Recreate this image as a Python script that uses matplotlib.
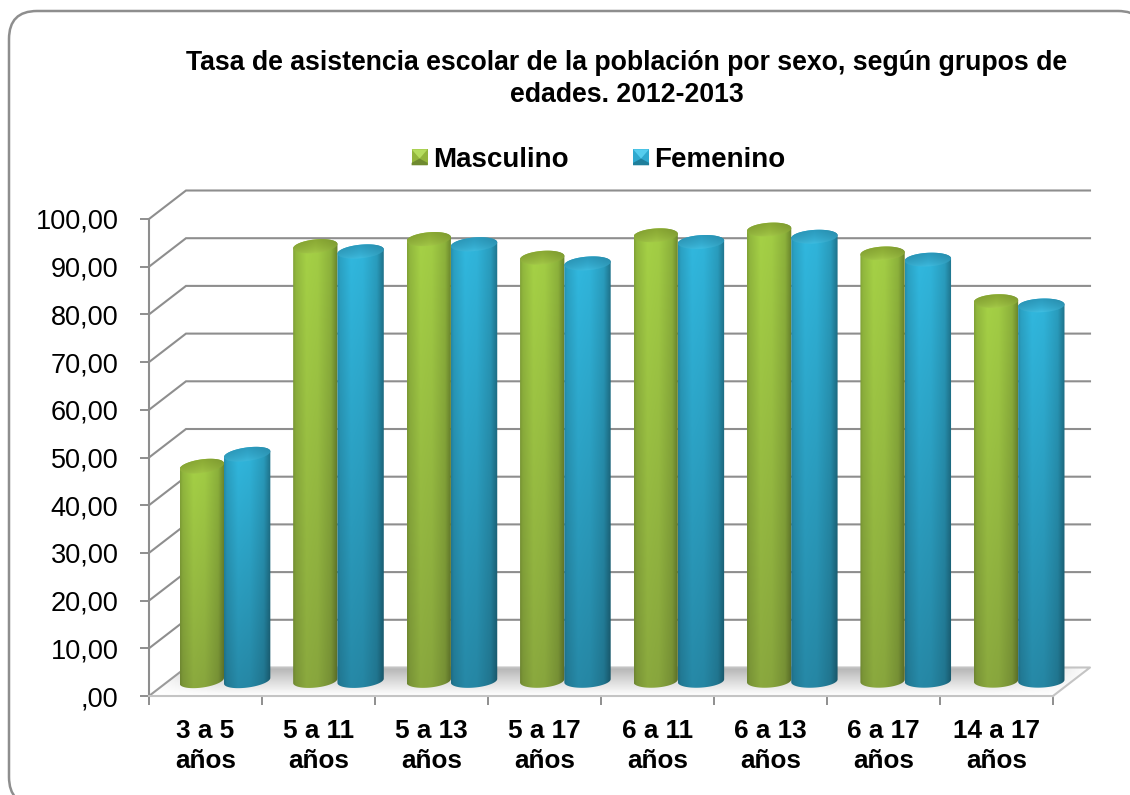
import numpy as np
import matplotlib
matplotlib.use("Agg")
import matplotlib.pyplot as plt
from matplotlib.path import Path
from matplotlib.patches import PathPatch, FancyBboxPatch, Polygon, Patch
from matplotlib.legend_handler import HandlerBase
from matplotlib.colors import to_rgb

plt.rcParams['font.family'] = ['Liberation Sans', 'DejaVu Sans']

title = "Tasa de asistencia escolar de la población por sexo, según grupos de\nedades. 2012-2013"
categories = ["3 a 5\naños", "5 a 11\naños", "5 a 13\naños", "5 a 17\naños",
              "6 a 11\naños", "6 a 13\naños", "6 a 17\naños", "14 a 17\naños"]
masculino = [45.0, 91.1, 92.6, 88.7, 93.4, 94.6, 89.6, 79.6]
femenino = [47.5, 90.0, 91.5, 87.5, 92.0, 93.1, 88.3, 78.7]
y_ticks = [0, 10, 20, 30, 40, 50, 60, 70, 80, 90, 100]
y_labels = [",00", "10,00", "20,00", "30,00", "40,00", "50,00", "60,00", "70,00", "80,00", "90,00", "100,00"]

W, H = 1130, 795
GRID = '#8e8e8e'
fig = plt.figure(figsize=(W / 100, H / 100), dpi=100, facecolor='white')

# outer rounded frame (runs off the right and bottom edges)
bg = fig.add_axes([0, 0, 1, 1], zorder=0)
bg.set_xlim(0, W); bg.set_ylim(H, 0); bg.axis('off')
bg.add_patch(FancyBboxPatch((9 + 28, 11 + 28), 1146 - 9 - 56, 805 - 11 - 56,
                            boxstyle="round,pad=28,rounding_size=28",
                            fc='white', ec=GRID, lw=1.8))

ax = fig.add_axes([149 / W, (H - 696) / H, 904 / W, 477 / H], zorder=1)
ax.patch.set_alpha(0)
ax.set_xlim(0, 8); ax.set_ylim(0, 100)
ax.set_autoscale_on(False)

DX = 37 / 113.0      # depth in category units
DY = 28.5 / 4.77     # depth in value units

# floor with soft shadow
floor = np.array([[0, 0], [8, 0], [8 + DX, DY], [DX, DY]])
u = np.linspace(0, 1, 256)
shade = np.linspace(0, 1, 64)[:, None] ** 1.1
across = np.clip(np.minimum(u * 14, (1 - u) * 10), 0, 1)[None, :]
g = 1 - 0.30 * shade * across
fl_im = ax.imshow(np.dstack([g, g, g]), extent=(0, 8 + DX, 0, DY), origin='lower', aspect='auto', zorder=1)
fl_patch = Polygon(floor, closed=True, transform=ax.transData, fc='none', ec='none', clip_on=False)
ax.add_patch(fl_patch)
fl_im.set_clip_box(fig.bbox)
fl_im.set_clip_path(fl_patch)
ax.plot(floor[[1, 2, 3], 0], floor[[1, 2, 3], 1], color='#c4c4c4', lw=1.5, clip_on=False, zorder=2)

# walls
for v in y_ticks[1:]:
    ax.plot([0, DX, 8 + DX], [v, v + DY, v + DY], color=GRID, lw=1.5, clip_on=False, zorder=2,
            solid_joinstyle='miter')
ax.plot([0, DX], [0, DY], color='#9a9a9a', lw=1.5, clip_on=False, zorder=2)

# axes
for s in ('top', 'right'):
    ax.spines[s].set_visible(False)
ax.spines['left'].set_color(GRID); ax.spines['left'].set_linewidth(1.5)
ax.spines['bottom'].set_color('#c4c4c4'); ax.spines['bottom'].set_linewidth(1.5)
ax.set_yticks(y_ticks); ax.set_yticklabels(y_labels, fontsize=19.5)
ax.tick_params(axis='y', length=6.5, width=1.4, color=GRID, pad=15.5)
ax.set_xticks(np.arange(0, 9))
ax.set_xticklabels([])
ax.tick_params(axis='x', which='major', length=6.5, width=1.4, color=GRID)
ax.set_xticks(np.arange(8) + 0.5, minor=True)
ax.set_xticklabels(categories, minor=True, fontsize=18.8, fontweight='bold', linespacing=1.29)
ax.tick_params(axis='x', which='minor', length=0, pad=16.7)


def draw_cyl(xc, hw, value, base, cols, tilt, z):
    top_c, bot_c, cap_hi, cap_lo = [np.array(to_rgb(c)) for c in cols]
    e = 6.8 / 4.77
    t = np.linspace(0, np.pi, 40)
    slope = tilt / hw
    xb = xc - hw * np.cos(t)
    yb = base - e * np.sin(t) + slope * (xb - xc)
    xt = xc + hw * np.cos(t)
    yt = base + value + e * np.sin(t) + slope * (xt - xc)
    body = Path(np.column_stack([np.r_[xb, xt], np.r_[yb, yt]]))
    ny, nx = 200, 120
    hz = np.interp(np.linspace(0, 1, nx), [0, .06, .3, .55, .85, 1], [.78, .88, 1.0, .98, .85, .62])
    vt = np.linspace(0, 1, ny)[:, None, None]
    img = (bot_c * (1 - vt) + top_c * vt) * hz[None, :, None]
    lo = base - e - abs(tilt) - 1
    hi = base + value + e + abs(tilt) + 1
    im = ax.imshow(np.clip(img, 0, 1), extent=(xc - hw, xc + hw, lo, hi), origin='lower', aspect='auto', zorder=z)
    p = PathPatch(body, transform=ax.transData, fc='none', ec='none', clip_on=False)
    ax.add_patch(p)
    im.set_clip_box(fig.bbox)
    im.set_clip_path(p)
    # top cap: dark at the back, light rim at the front
    tt = np.linspace(0, 2 * np.pi, 80)
    xx = xc + hw * np.cos(tt)
    yy = base + value + e * np.sin(tt) + slope * (xx - xc)
    cap = Path(np.column_stack([xx, yy]))
    vv = np.linspace(0, 1, 40)[:, None, None] ** 0.55
    cimg = cap_hi * (1 - vv) + cap_lo * vv   # row 0 = front (low value)
    y0 = base + value - e - abs(tilt)
    y1 = base + value + e + abs(tilt)
    hzc = np.interp(np.linspace(0, 1, 60), [0, .5, 1], [.92, 1.0, .9])
    cim = ax.imshow(cimg * hzc[None, :, None], extent=(xc - hw, xc + hw, y0, y1),
                    origin='lower', aspect='auto', zorder=z + 0.01)
    cp = PathPatch(cap, transform=ax.transData, fc='none', ec='none', clip_on=False)
    ax.add_patch(cp)
    cim.set_clip_box(fig.bbox)
    cim.set_clip_path(cp)


GREEN = ('#a6d246', '#8aa83e', '#aed650', '#88a632')
BLUE = ('#31b9e0', '#2688a6', '#45c8ec', '#2a98bb')
BASE = DY / 2 + 0.2
tilts = [.6, .45, .4, .35, .3, .3, .25, .2]
for i, (m, f) in enumerate(zip(masculino, femenino)):
    cx = i + 0.5 + DX / 2 + i * 0.004
    draw_cyl(cx - 0.196, 0.196, m, BASE, GREEN, tilts[i], 5 + i)
    draw_cyl(cx + 0.205, 0.205, f, BASE, BLUE, tilts[i], 5.5 + i)


class CubeHandler(HandlerBase):
    def __init__(self, light, mid, dark):
        super().__init__()
        self.c = (light, mid, dark)

    def create_artists(self, legend, orig, xd, yd, w, h, fs, trans):
        light, mid, dark = self.c
        s = 16 * 0.72
        x0 = w - s
        y0 = (h - s) / 2
        sq = [(x0, y0), (x0 + s, y0), (x0 + s, y0 + s), (x0, y0 + s)]
        cxy = (x0 + s / 2, y0 + s * 0.42)
        return [Polygon(sq, fc=mid, ec='none', transform=trans),
                Polygon([sq[3], sq[2], cxy], fc=light, ec='none', transform=trans),
                Polygon([sq[0], sq[1], (x0 + s, y0 + s * .15), cxy, (x0, y0 + s * .15)],
                        fc=dark, ec='none', transform=trans)]


hm = Patch(label='Masculino')
hf = Patch(label='Femenino')
fig.legend(handles=[hm, hf], loc='center', bbox_to_anchor=(595.5 / W, 1 - 160 / H), ncol=2, frameon=False,
           prop={'size': 20, 'weight': 'bold'}, columnspacing=2.1, handletextpad=0.19, handlelength=0.8,
           handler_map={hm: CubeHandler('#b5dc5e', '#93b53c', '#6f8a30'),
                        hf: CubeHandler('#55cdee', '#2fa9cf', '#1f7f9b')})

fig.text(627 / W, 1 - 78.5 / H, title, ha='center', va='center', fontsize=19.2, fontweight='bold', linespacing=1.3)

fig.savefig('out.png', dpi=100)
